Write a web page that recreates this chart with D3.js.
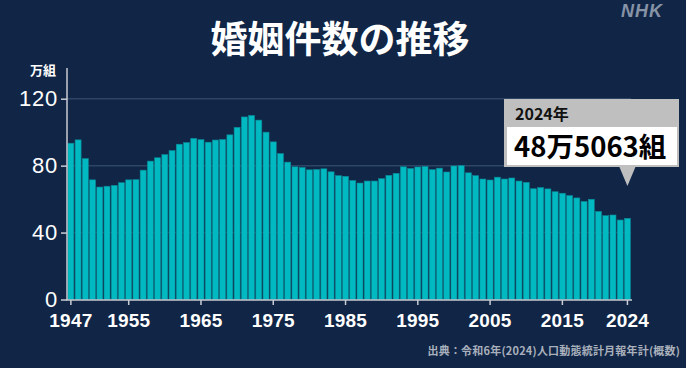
<!DOCTYPE html>
<html><head><meta charset="utf-8">
<script src="https://cdn.jsdelivr.net/npm/d3@7"></script>
<style>
html,body{margin:0;padding:0;background:#112646;}
svg{display:block;}
</style></head>
<body>
<svg id="chart" width="686" height="368"></svg>
<script>
const years = d3.range(1947, 2025);
const marriages = [ // 万組
  93.4,95.4,84.2,71.5,67.2,67.7,68.2,69.8,71.5,71.6,
  77.3,82.7,84.7,86.6,89.0,92.8,93.8,96.3,95.5,94.0,
  95.3,95.6,98.4,102.9,109.1,110.0,107.2,100.0,94.2,87.2,
  82.1,79.3,78.9,77.5,77.7,78.1,76.3,74.0,73.6,71.1,
  69.6,70.8,70.8,72.2,74.2,75.4,79.3,78.3,79.2,79.5,
  77.6,78.5,76.2,79.8,80.0,75.7,74.0,72.0,71.4,73.1,
  72.0,72.6,70.8,70.0,66.2,66.9,66.1,64.4,63.5,62.1,
  60.7,58.6,59.9,52.6,50.1,50.5,47.5,48.5
];
const yTicks = [0,40,80,120];
const xTickYears = [1947,1955,1965,1975,1985,1995,2005,2015,2024];
const title = "婚姻件数の推移";
const unitLabel = "万組";
const calloutYear = "2024年";
const calloutValue = "48万5063組";
const sourceText = "出典：令和6年(2024)人口動態統計月報年計(概数)";

const svg = d3.select("#chart");
const font = "'Liberation Sans', Arial, 'Noto Sans CJK JP', sans-serif";
const cjk = "'Noto Sans CJK JP', sans-serif";

svg.append("rect").attr("width",686).attr("height",368).attr("fill","#112646");

// NHK mark
svg.append("text").attr("x",642).attr("y",17).attr("text-anchor","middle")
  .attr("font-family",font).attr("font-weight","bold").attr("font-style","italic")
  .attr("font-size",18).attr("fill","#8793a6").attr("letter-spacing",1).text("NHK");

// Title
svg.append("text").attr("x",340).attr("y",53).attr("text-anchor","middle")
  .attr("font-family",cjk).attr("font-weight","bold").attr("font-size",37)
  .attr("fill","#ffffff").text(title);

const x = d3.scaleBand().domain(years).range([67.3,631]).paddingInner(0.17).paddingOuter(0.08);
const y = d3.scaleLinear().domain([0,120]).range([299.5,98.7]);

// grid
svg.append("g").selectAll("line").data(yTicks.filter(d=>d>0)).join("line")
  .attr("x1",67).attr("x2",631).attr("y1",d=>y(d)).attr("y2",d=>y(d))
  .attr("stroke","#2f4566").attr("stroke-width",1.5);

// bars
svg.append("g").selectAll("rect").data(years).join("rect")
  .attr("x",d=>x(d)).attr("width",x.bandwidth())
  .attr("y",(d,i)=>y(marriages[i])).attr("height",(d,i)=>y(0)-y(marriages[i]))
  .attr("fill","#00b9c1").attr("stroke","#0b8896").attr("stroke-width",0.6);

// y axis
const yAxis = d3.axisLeft(y).tickValues(yTicks).tickSize(6).tickPadding(3).tickFormat(d3.format("d"));
const gy = svg.append("g").attr("transform","translate(67,0)").call(yAxis);
gy.select(".domain").remove();
gy.selectAll("line").attr("stroke","#c8ccd4").attr("stroke-width",1.5);
gy.selectAll("text").attr("fill","#ffffff").attr("font-family",font).attr("font-size",22)
  .attr("letter-spacing",0.8).attr("dy","0.33em");
svg.append("line").attr("x1",67).attr("x2",67).attr("y1",68).attr("y2",300)
  .attr("stroke","#c8ccd4").attr("stroke-width",1.5);

// x axis
const xAxis = d3.axisBottom(x).tickValues(xTickYears).tickSize(5).tickPadding(9).tickFormat(d=>d);
const gx = svg.append("g").attr("transform","translate(0,300)").call(xAxis);
gx.select(".domain").attr("d","M66,0H632").attr("stroke","#c8ccd4").attr("stroke-width",1.5);
gx.selectAll("line").attr("stroke","#c8ccd4").attr("stroke-width",1.5);
gx.selectAll("text").attr("fill","#ffffff").attr("font-family",font).attr("font-size",19)
  .attr("font-weight","bold").attr("letter-spacing",0.2);

// unit label
svg.append("text").attr("x",43).attr("y",75).attr("text-anchor","middle")
  .attr("font-family",cjk).attr("font-weight","bold").attr("font-size",13)
  .attr("fill","#ffffff").text(unitLabel);

// callout
const cx = x(2024)+x.bandwidth()/2;
const call = svg.append("g");
call.append("rect").attr("x",504).attr("y",99).attr("width",175).attr("height",68).attr("fill","#bfbfbf");
call.append("path").attr("d",`M${cx-8},167L${cx+8},167L${cx},186Z`).attr("fill","#bfbfbf");
call.append("rect").attr("x",507).attr("y",127).attr("width",170).attr("height",38).attr("fill","#ffffff");
call.append("text").attr("x",515).attr("y",120).attr("font-family",cjk).attr("font-weight","bold")
  .attr("font-size",16).attr("fill","#111").text(calloutYear);
call.append("text").attr("x",514).attr("y",157).attr("font-family",cjk).attr("font-weight","bold")
  .attr("font-size",27.5).attr("fill","#000").text(calloutValue);

// source
svg.append("text").attr("x",680).attr("y",355).attr("text-anchor","end")
  .attr("font-family",cjk).attr("font-weight","bold").attr("font-size",11)
  .attr("fill","#a9b0bc").attr("letter-spacing",0.2).text(sourceText);
</script>
</body></html>
